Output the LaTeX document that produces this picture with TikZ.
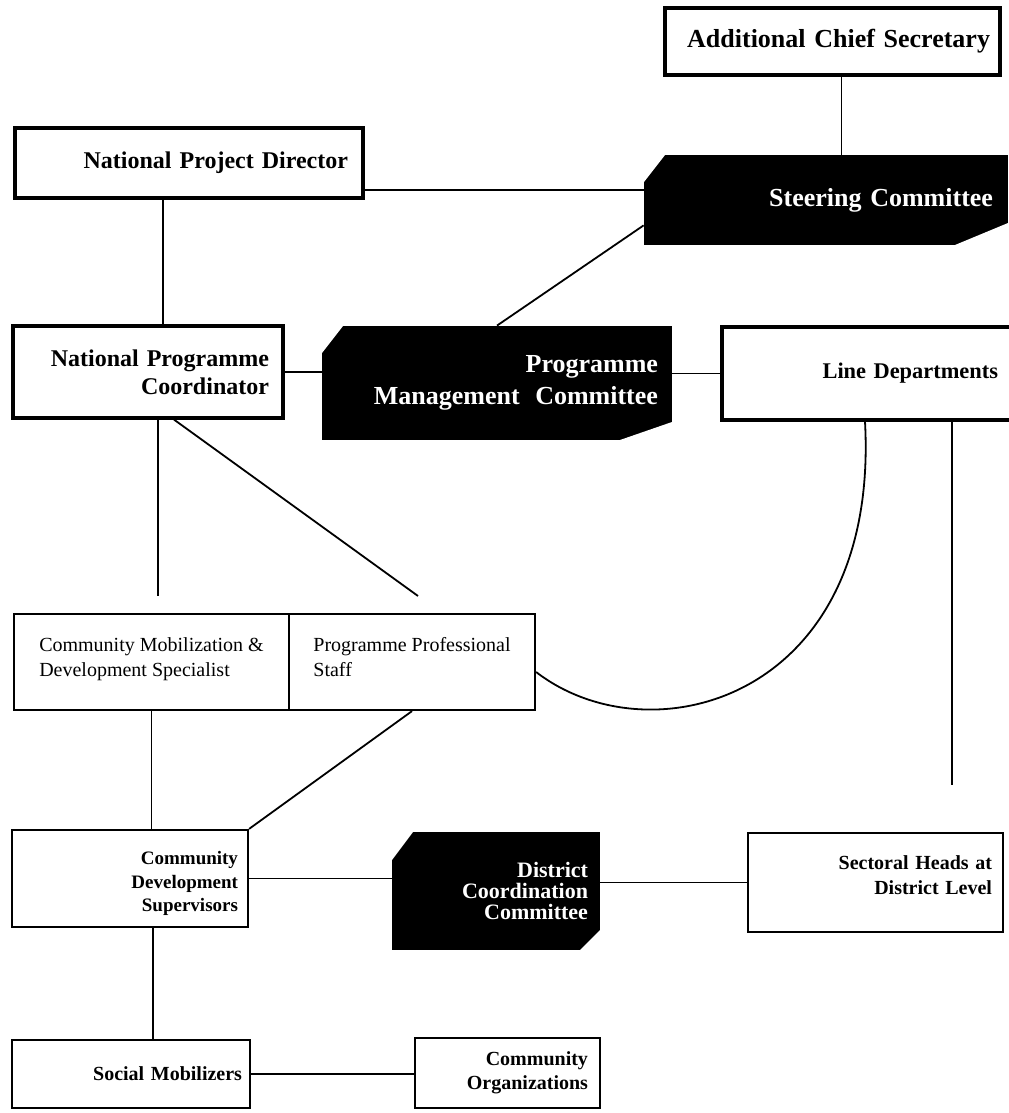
\documentclass[tikz,border=0pt]{standalone}
\usepackage{fontspec}
\setmainfont{Liberation Serif}
\usetikzlibrary{
    calc,
    positioning
}
\tikzstyle{topbox} = [
    rectangle, draw,
    line width=1.6pt,
    align=right,
    font=\bfseries\fontsize{12}{14}\selectfont
]
\tikzstyle{lowbox} = [
    rectangle, draw,
    line width=1.1pt,
    align=right,
    font=\bfseries\fontsize{10}{12.5}\selectfont
]
\tikzstyle{plainbox} = [
    rectangle, draw,
    line width=1.1pt,
    align=left,
    font=\fontsize{10}{12.5}\selectfont
]
\tikzstyle{committee} = [
    rectangle,
    fill=black,
    text=white,
    align=right,
    font=\bfseries\fontsize{13}{16}\selectfont
]
\tikzstyle{link} = [
    line width=0.9pt
]
\tikzset{
    cut/.style n args={4}{path picture={
        \fill[white] (path picture bounding box.north west) -- ++(#1,0) -- ++(-#1,-#2) -- cycle;
        \fill[white] (path picture bounding box.south east) -- ++(-#3,0) -- ++(#3,#4) -- cycle;
    }}
}

\begin{document}
\begin{tikzpicture}[x=0.5pt, y=-0.5pt]
\useasboundingbox (0,0) rectangle (1008,1113);

\node (acs) [topbox, font=\bfseries\fontsize{13}{15}\selectfont,
    text width=157.5pt, inner xsep=5pt, minimum height=33.5pt]
    at (832.5,41.5) {Additional Chief Secretary};
\node (npd) [topbox, text width=159pt, inner xsep=7.5pt, minimum height=35pt]
    at (189,163) {National Project Director};
\node (steering) [committee, cut={10.5pt}{13.5pt}{26.5pt}{11pt},
    text width=167pt, inner xsep=7.5pt, minimum height=45pt]
    at (826,200) {Steering Committee};
\node (npc) [topbox, text width=121pt, inner xsep=7pt, minimum height=46pt]
    at (148,372) {National Programme\\Coordinator};
\node (pmc) [committee, cut={10.5pt}{13.5pt}{26pt}{9pt},
    text width=161pt, inner xsep=7pt, minimum height=57pt]
    at (497,383) {Programme\\Management\hspace{0.6em}Committee};
\node (ld) [topbox, font=\bfseries\fontsize{11.2}{13}\selectfont,
    text width=131pt, inner xsep=7pt, minimum height=46.5pt]
    at (867,373.5) {Line Departments};

\node (cmds) [plainbox, minimum width=137.5pt, minimum height=48pt, text depth=5pt]
    at (151.5,662) {Community Mobilization \&\\Development Specialist};
\node (pps) [plainbox, minimum width=123pt, minimum height=48pt, text depth=5pt]
    at (412,662) {Programme Professional\\Staff};

\node (cds) [lowbox, font=\bfseries\fontsize{9.5}{11.75}\selectfont,
    text width=108pt, inner xsep=5pt, minimum height=48.5pt, text depth=20.5pt]
    at (130,878.5) {Community\\Development\\Supervisors};
\node (dcc) [committee, cut={10.5pt}{14pt}{10pt}{10pt},
    font=\bfseries\fontsize{11}{10.5}\selectfont,
    text width=92pt, inner xsep=6pt, minimum height=59pt]
    at (496,891) {District\\Coordination\\Committee};
\node (sh) [lowbox, text width=116.5pt, inner xsep=5.5pt, minimum height=49.5pt,
    text depth=20pt]
    at (875.5,882.5) {Sectoral Heads at\\District Level};

\node (sm) [lowbox, text width=111pt, inner xsep=4pt, minimum height=34pt]
    at (131,1074) {Social Mobilizers};
\node (co) [lowbox, font=\bfseries\fontsize{10}{12}\selectfont,
    text width=80.5pt, inner xsep=6pt, minimum height=35pt]
    at (507.5,1073) {Community\\Organizations};

% loose ends
\coordinate (acsfoot) at ($(acs.south)+(9,0)$);
\coordinate (npdright) at ($(npd.south east)+(0,-10)$);
\coordinate (npdfoot) at ($(npd.south)+(-26,0)$);
\coordinate (ldfoot) at (952,785);
\coordinate (npcfoot) at (158,596);
\coordinate (ppstop) at (418,596);
\coordinate (cdsfoot) at ($(cds.south)+(23,0)$);

\draw [link] (acsfoot) -- (acsfoot |- steering.north);
\draw [link] (npdright) -- (npdright -| steering.west);
\draw [link] (npdfoot) -- (npdfoot |- npc.north);
\draw [link] (npc.east) -- (npc.east -| pmc.west);
\draw [link] (pmc.east |- ld.west) -- (ld.west);
\draw [link] (pmc.north) -- ($(steering.south west)+(0,-20)$);
\draw [link] (ldfoot |- ld.south) -- (ldfoot);
\draw [link] (865,0 |- ld.south) .. controls (880,700) and (650,760) .. ($(pps.east)+(0,10)$);
\draw [link] (npcfoot |- npc.south) -- (npcfoot);
\draw [link] ($(npc.south)+(26,0)$) -- (ppstop);
\draw [link] (cmds.south) -- (cmds.south |- cds.north);
\draw [link] (pps.south) -- (cds.north east);
\draw [link] (cds.east) -- (cds.east -| dcc.west);
\draw [link] (dcc.east |- sh.west) -- (sh.west);
\draw [link] (cdsfoot) -- (cdsfoot |- sm.north);
\draw [link] (sm.east) -- (sm.east -| co.west);

\end{tikzpicture}
\end{document}
